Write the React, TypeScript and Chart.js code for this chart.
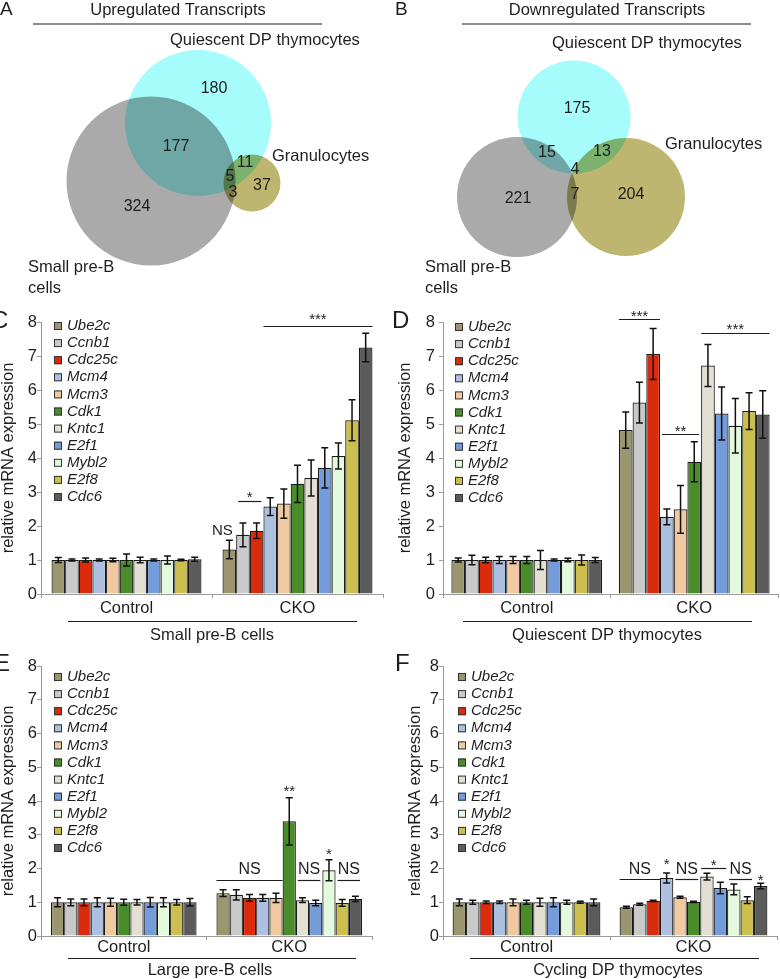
import React, { useEffect, useRef } from 'react';
import { Chart, registerables } from 'chart.js';
Chart.register(...registerables);

const FONT = '"Liberation Sans", Arial, Helvetica, sans-serif';
const INK = '#1e1e1e';
const AXIS = '#9a9a9a';

// ---------------- Venn data ----------------
const vennSetLabels = [['Quiescent DP thymocytes'], ['Small pre-B', 'cells'], ['Granulocytes']];
// regions: [QDP only, QDP∩SPB, SPB only, QDP∩Gran, all three, SPB∩Gran, Gran only]
const upTitle = 'Upregulated Transcripts';
const upCounts = [180, 177, 324, 11, 5, 3, 37];
const downTitle = 'Downregulated Transcripts';
const downCounts = [175, 15, 221, 13, 4, 7, 204];
const vennColors = ['rgb(166,251,251)', 'rgb(170,170,170)', 'rgb(189,181,112)'];

// ---------------- qPCR data ----------------
const genes = ['Ube2c', 'Ccnb1', 'Cdc25c', 'Mcm4', 'Mcm3', 'Cdk1', 'Kntc1', 'E2f1', 'Mybl2', 'E2f8', 'Cdc6'];
const geneColors = ['#9b966e', '#c9c9c9', '#dc2b0c', '#adc0df', '#f1c9a1', '#4a8c2a', '#e3e0d3', '#749cdb', '#e4fadc', '#ccbf4d', '#5b5b5b'];
const groups = ['Control', 'CKO'];
const yAxisTitle = 'relative mRNA expression';

// C: Small pre-B cells
const smallPreBControl = [1, 1, 1, 1, 1, 1, 1, 1, 1, 1, 1.02];
const smallPreBControlErr = [0.07, 0.03, 0.06, 0.03, 0.05, 0.18, 0.08, 0.03, 0.12, 0.02, 0.06];
const smallPreBCKO = [1.31, 1.74, 1.86, 2.57, 2.66, 3.24, 3.41, 3.71, 4.06, 5.11, 7.25];
const smallPreBCKOErr = [0.27, 0.35, 0.23, 0.26, 0.43, 0.55, 0.53, 0.59, 0.38, 0.6, 0.42];

// D: Quiescent DP thymocytes
const quiescentDPControl = [1, 1, 1, 1, 1, 1, 1, 1, 1, 1, 1];
const quiescentDPControlErr = [0.06, 0.14, 0.08, 0.1, 0.1, 0.1, 0.28, 0.03, 0.05, 0.15, 0.07];
const quiescentDPCKO = [4.82, 5.63, 7.06, 2.27, 2.49, 3.89, 6.72, 5.31, 4.95, 5.38, 5.28];
const quiescentDPCKOErr = [0.53, 0.6, 0.75, 0.23, 0.7, 0.59, 0.62, 0.78, 0.8, 0.54, 0.7];

// E: Large pre-B cells
const largePreBControl = [1, 1, 1, 1, 1, 1, 1, 1, 1, 1, 1];
const largePreBControlErr = [0.13, 0.1, 0.1, 0.13, 0.12, 0.09, 0.08, 0.14, 0.13, 0.08, 0.11];
const largePreBCKO = [1.27, 1.22, 1.13, 1.13, 1.13, 3.4, 1.06, 0.98, 1.95, 0.98, 1.1];
const largePreBCKOErr = [0.1, 0.15, 0.1, 0.1, 0.14, 0.7, 0.07, 0.08, 0.31, 0.1, 0.08];

// F: Cycling DP thymocytes
const cyclingDPControl = [1, 1, 1, 1, 1, 1, 1, 1, 1, 1, 1];
const cyclingDPControlErr = [0.1, 0.06, 0.04, 0.04, 0.1, 0.06, 0.12, 0.13, 0.06, 0.03, 0.1];
const cyclingDPCKO = [0.85, 0.94, 1.04, 1.72, 1.15, 1.01, 1.76, 1.42, 1.38, 1.06, 1.48];
const cyclingDPCKOErr = [0.03, 0.03, 0.02, 0.15, 0.03, 0.02, 0.1, 0.17, 0.16, 0.1, 0.08];

type Ann = { from: number; to: number; line?: number; text: string; at: number; inset?: number; size?: number; dx?: number };

const smallPreBAnns: Ann[] = [
  { from: 0, to: 0, text: 'NS', at: 1.88, dx: -7, size: 15 },
  { from: 1, to: 2, line: 2.74, text: '*', at: 2.97, inset: 2 },
  { from: 3, to: 10, line: 7.88, text: '***', at: 8.21 },
];
const quiescentDPAnns: Ann[] = [
  { from: 0, to: 2, line: 8.09, text: '***', at: 8.29 },
  { from: 3, to: 5, line: 4.71, text: '**', at: 4.91, inset: 2 },
  { from: 6, to: 10, line: 7.68, text: '***', at: 7.91 },
];
const largePreBAnns: Ann[] = [
  { from: 0, to: 4, line: 1.66, text: 'NS', at: 2.01 },
  { from: 5, to: 5, text: '**', at: 4.41 },
  { from: 6, to: 7, line: 1.66, text: 'NS', at: 2.01, inset: 2 },
  { from: 8, to: 8, text: '*', at: 2.55 },
  { from: 9, to: 10, line: 1.66, text: 'NS', at: 2.01, inset: 2 },
];
const cyclingDPAnns: Ann[] = [
  { from: 0, to: 2, line: 1.69, text: 'NS', at: 2.01 },
  { from: 3, to: 3, text: '*', at: 2.25 },
  { from: 4, to: 5, line: 1.69, text: 'NS', at: 2.01, inset: 2 },
  { from: 6, to: 7, line: 2.01, text: '*', at: 2.22, inset: 1 },
  { from: 8, to: 9, line: 1.69, text: 'NS', at: 2.01, inset: 2 },
  { from: 10, to: 10, text: '*', at: 1.78 },
];

// ---------------- layout ----------------
const vennA = {
  letter: 'A', left: 0, top: 0, w: 390, h: 300,
  title: upTitle, counts: upCounts,
  letterX: 0, letterY: 10, titleX: 178, titleY: 10, ul: [33, 322], ulY: 24,
  circles: [[198, 123, 73], [151, 181, 84.5], [252, 183, 28.5]],
  labelPos: [[170, 40], [28, 267], [272, 156]],
  countPos: [[214, 89], [176, 147], [137, 207], [245, 163], [230, 177], [233, 193], [262, 186]],
};
const vennB = {
  letter: 'B', left: 390, top: 0, w: 390, h: 300,
  title: downTitle, counts: downCounts,
  letterX: 5, letterY: 10, titleX: 217, titleY: 10, ul: [72, 361], ulY: 24,
  circles: [[184, 117, 56.5], [127, 197, 60], [236, 197, 59]],
  labelPos: [[162, 43], [35, 267], [275, 144]],
  countPos: [[187, 109], [157, 153], [128, 199], [212, 152], [185, 170], [185, 195], [241, 195]],
};

const barPanels = [
  {
    letter: 'C', left: 0, top: 300, h: 345, padTop: 22, padRight: 7, yW: 41, xH: 51, catPct: 0.877,
    yTickPad: 0, yTitlePad: 0, xTickPad: 2, letterX: -9, letterY: 21, legendDx: 13, legendDy: 4,
    ul: [68, 357], ulY: 321, caption: 'Small pre-B cells', capX: 212, capY: 335,
    control: smallPreBControl, controlErr: smallPreBControlErr, cko: smallPreBCKO, ckoErr: smallPreBCKOErr, anns: smallPreBAnns,
  },
  {
    letter: 'D', left: 390, top: 300, h: 345, padTop: 22, padRight: 2, yW: 53, xH: 51, catPct: 0.9,
    yTickPad: 4, yTitlePad: 7, xTickPad: 2, letterX: 2, letterY: 21, legendDx: 12, legendDy: 5,
    ul: [73, 362], ulY: 321, caption: 'Quiescent DP thymocytes', capX: 217, capY: 335,
    control: quiescentDPControl, controlErr: quiescentDPControlErr, cko: quiescentDPCKO, ckoErr: quiescentDPCKOErr, anns: quiescentDPAnns,
  },
  {
    letter: 'E', left: 0, top: 650, h: 329, padTop: 16, padRight: 18, yW: 41, xH: 43, catPct: 0.88,
    yTickPad: 0, yTitlePad: 0, xTickPad: -1, letterX: -6, letterY: 14, legendDx: 13, legendDy: 11,
    ul: [68, 356], ulY: 308, caption: 'Large pre-B cells', capX: 210, capY: 320,
    control: largePreBControl, controlErr: largePreBControlErr, cko: largePreBCKO, ckoErr: largePreBCKOErr, anns: largePreBAnns,
  },
  {
    letter: 'F', left: 390, top: 650, h: 329, padTop: 16, padRight: 3, yW: 53, xH: 43, catPct: 0.885,
    yTickPad: 0, yTitlePad: 17, xTickPad: -1, letterX: 5, letterY: 14, legendDx: 15, legendDy: 11,
    ul: [80, 369], ulY: 308, caption: 'Cycling DP thymocytes', capX: 228, capY: 320,
    control: cyclingDPControl, controlErr: cyclingDPControlErr, cko: cyclingDPCKO, ckoErr: cyclingDPCKOErr, anns: cyclingDPAnns,
  },
];

// ---------------- Venn panel ----------------
function VennPanel({ cfg }: { cfg: any }) {
  const ref = useRef<HTMLCanvasElement | null>(null);
  useEffect(() => {
    const decor = {
      id: 'vennDecor' + cfg.letter,
      beforeDatasetsDraw(chart: any) {
        chart.ctx.save();
        chart.ctx.globalCompositeOperation = 'multiply';
      },
      afterDatasetsDraw(chart: any) {
        chart.ctx.restore();
      },
      afterDraw(chart: any) {
        const ctx = chart.ctx;
        const xs = chart.scales.x;
        const ys = chart.scales.y;
        ctx.save();
        ctx.fillStyle = INK;
        ctx.textBaseline = 'middle';
        ctx.textAlign = 'left';
        ctx.font = `19px ${FONT}`;
        ctx.fillText(cfg.letter, cfg.letterX, cfg.letterY);
        ctx.font = `16.5px ${FONT}`;
        ctx.textAlign = 'center';
        ctx.fillText(cfg.title, cfg.titleX, cfg.titleY);
        ctx.strokeStyle = INK;
        ctx.lineWidth = 1.2;
        ctx.beginPath();
        ctx.moveTo(cfg.ul[0], cfg.ulY);
        ctx.lineTo(cfg.ul[1], cfg.ulY);
        ctx.stroke();
        ctx.textAlign = 'left';
        vennSetLabels.forEach((lines, i) => {
          const p = cfg.labelPos[i];
          lines.forEach((ln, k) => ctx.fillText(ln, p[0], p[1] + k * 21));
        });
        ctx.textAlign = 'center';
        ctx.font = `16px ${FONT}`;
        cfg.counts.forEach((c: number, i: number) => {
          const p = cfg.countPos[i];
          ctx.fillText(String(c), xs.getPixelForValue(p[0]), ys.getPixelForValue(p[1]));
        });
        ctx.restore();
      },
    };
    const chart = new Chart(ref.current as HTMLCanvasElement, {
      type: 'bubble',
      data: {
        datasets: [
          {
            label: 'sets',
            data: cfg.circles.map((c: number[]) => ({ x: c[0], y: c[1], r: c[2] })),
            backgroundColor: vennColors,
            borderWidth: 0,
            hoverBorderWidth: 0,
            clip: false,
          } as any,
        ],
      },
      options: {
        responsive: false,
        animation: false,
        devicePixelRatio: 1,
        events: [],
        layout: { padding: 0, autoPadding: false },
        plugins: { legend: { display: false }, tooltip: { enabled: false } },
        scales: {
          x: { type: 'linear', min: 0, max: cfg.w, display: false },
          y: { type: 'linear', min: 0, max: cfg.h, reverse: true, display: false },
        },
      } as any,
      plugins: [decor],
    });
    return () => chart.destroy();
  }, []);
  return (
    <canvas
      ref={ref}
      width={cfg.w}
      height={cfg.h}
      style={{ position: 'absolute', left: cfg.left, top: cfg.top, width: cfg.w, height: cfg.h }}
    />
  );
}

// ---------------- Bar panel ----------------
function BarPanel({ cfg }: { cfg: any }) {
  const ref = useRef<HTMLCanvasElement | null>(null);
  useEffect(() => {
    const decor = {
      id: 'barDecor' + cfg.letter,
      afterDatasetsDraw(chart: any) {
        const ctx = chart.ctx;
        const ys = chart.scales.y;
        ctx.save();
        ctx.strokeStyle = '#111';
        ctx.lineWidth = 1.5;
        chart.data.datasets.forEach((ds: any, i: number) => {
          const meta = chart.getDatasetMeta(i);
          meta.data.forEach((bar: any, j: number) => {
            const v = ds.data[j];
            const e = ds.errors[j];
            const x = bar.x;
            const t = ys.getPixelForValue(v + e);
            const b = ys.getPixelForValue(v - e);
            ctx.beginPath();
            ctx.moveTo(x, t);
            ctx.lineTo(x, b);
            ctx.moveTo(x - 3.5, t);
            ctx.lineTo(x + 3.5, t);
            ctx.moveTo(x - 3.5, b);
            ctx.lineTo(x + 3.5, b);
            ctx.stroke();
          });
        });
        ctx.restore();
      },
      afterDraw(chart: any) {
        const ctx = chart.ctx;
        const ys = chart.scales.y;
        const ca = chart.chartArea;
        ctx.save();
        ctx.fillStyle = INK;
        ctx.textBaseline = 'middle';
        ctx.textAlign = 'left';
        ctx.font = `24px ${FONT}`;
        ctx.fillText(cfg.letter, cfg.letterX, cfg.letterY);
        const lx = ca.left + cfg.legendDx;
        genes.forEach((g, i) => {
          const cy = ca.top + cfg.legendDy + i * 17.1;
          ctx.fillStyle = geneColors[i];
          ctx.fillRect(lx, cy - 4, 8, 8);
          ctx.strokeStyle = '#333';
          ctx.lineWidth = 1;
          ctx.strokeRect(lx + 0.5, cy - 3.5, 7, 7);
          ctx.fillStyle = INK;
          ctx.font = `italic 15px ${FONT}`;
          ctx.fillText(g, lx + 13, cy);
        });
        const bars = genes.map((_, i) => chart.getDatasetMeta(i).data[1]);
        cfg.anns.forEach((a: Ann) => {
          const b1 = bars[a.from];
          const b2 = bars[a.to];
          const inset = a.inset || 0;
          const x1 = b1.x - b1.width / 2 + inset;
          const x2 = b2.x + b2.width / 2 - inset;
          if (a.line !== undefined) {
            const ly = Math.round(ys.getPixelForValue(a.line)) + 0.5;
            ctx.strokeStyle = INK;
            ctx.lineWidth = 1.2;
            ctx.beginPath();
            ctx.moveTo(x1, ly);
            ctx.lineTo(x2, ly);
            ctx.stroke();
          }
          const star = /^\*+$/.test(a.text);
          const size = a.size || (star ? 15 : 16);
          ctx.font = `${size}px ${FONT}`;
          ctx.textAlign = 'center';
          ctx.textBaseline = 'alphabetic';
          ctx.fillStyle = INK;
          const ty = ys.getPixelForValue(a.at) + (star ? 0.58 : 0.36) * size;
          ctx.fillText(a.text, (x1 + x2) / 2 + (a.dx || 0), ty);
        });
        ctx.strokeStyle = INK;
        ctx.lineWidth = 1.2;
        ctx.beginPath();
        ctx.moveTo(cfg.ul[0], cfg.ulY + 0.5);
        ctx.lineTo(cfg.ul[1], cfg.ulY + 0.5);
        ctx.stroke();
        ctx.textAlign = 'center';
        ctx.textBaseline = 'middle';
        ctx.font = `16.5px ${FONT}`;
        ctx.fillText(cfg.caption, cfg.capX, cfg.capY);
        ctx.restore();
      },
    };
    const datasets = genes.map((g, i) => ({
      label: g,
      data: [cfg.control[i], cfg.cko[i]],
      errors: [cfg.controlErr[i], cfg.ckoErr[i]],
      backgroundColor: geneColors[i],
      borderColor: '#1a1a1a',
      borderWidth: 1.2,
      categoryPercentage: cfg.catPct,
      barPercentage: 1.0,
    }));
    const tickFont = { family: FONT, size: 16.5, lineHeight: 1 };
    const chart = new Chart(ref.current as HTMLCanvasElement, {
      type: 'bar',
      data: { labels: groups, datasets: datasets as any },
      options: {
        responsive: false,
        animation: false,
        devicePixelRatio: 1,
        events: [],
        layout: { padding: { top: cfg.padTop, right: cfg.padRight, left: 0, bottom: 0 } },
        plugins: { legend: { display: false }, tooltip: { enabled: false }, title: { display: false } },
        scales: {
          x: {
            grid: { display: true, offset: true, drawOnChartArea: false, drawTicks: true, tickLength: 4, color: AXIS },
            border: { display: true, color: AXIS, width: 1 },
            ticks: { font: tickFont, color: INK, padding: cfg.xTickPad, maxRotation: 0 },
            afterFit: (s: any) => { s.height = cfg.xH; },
          },
          y: {
            min: 0,
            max: 8,
            ticks: { stepSize: 1, font: tickFont, color: INK, padding: cfg.yTickPad },
            grid: { drawOnChartArea: false, drawTicks: true, tickLength: 4, color: AXIS },
            border: { display: true, color: AXIS, width: 1 },
            title: {
              display: true,
              text: yAxisTitle,
              font: tickFont,
              color: INK,
              padding: { top: cfg.yTitlePad, bottom: 0 },
            },
            afterFit: (s: any) => { s.width = cfg.yW; },
          },
        },
      } as any,
      plugins: [decor],
    });
    return () => chart.destroy();
  }, []);
  return (
    <canvas
      ref={ref}
      width={390}
      height={cfg.h}
      style={{ position: 'absolute', left: cfg.left, top: cfg.top, width: 390, height: cfg.h }}
    />
  );
}

export default function App() {
  return (
    <div style={{ position: 'absolute', left: 0, top: 0, width: 780, height: 979, background: '#fff', overflow: 'hidden' }}>
      <VennPanel cfg={vennA} />
      <VennPanel cfg={vennB} />
      {barPanels.map((p) => (
        <BarPanel key={p.letter} cfg={p} />
      ))}
    </div>
  );
}
